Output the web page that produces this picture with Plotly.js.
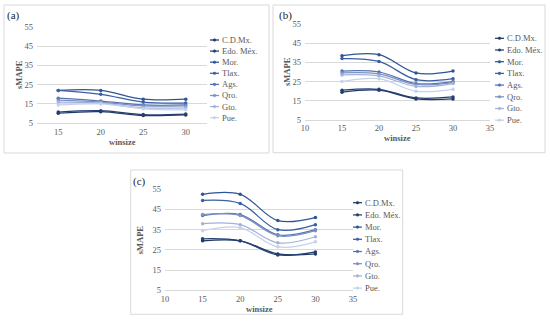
<!DOCTYPE html>
<html>
<head>
<meta charset="utf-8">
<script src="https://cdn.plot.ly/plotly-3.0.1.min.js"></script>
<style>html,body{margin:0;padding:0;background:#fff;}#chart{width:550px;height:322px;}</style>
</head>
<body>
<div id="chart"></div>
<script>
// ---- Data ----
const winsize = [15, 20, 25, 30];
const states = ["C.D.Mx.", "Edo. Méx.", "Mor.", "Tlax.", "Ags.", "Qro.", "Gto.", "Pue."];

// Panel (a)
const a_CDMx = [10.2, 11, 9, 9.3];
const a_EdoMex = [10.8, 11.5, 9.5, 9.8];
const a_Mor = [22, 22, 17.5, 17.5];
const a_Tlax = [22, 20, 16, 15.5];
const a_Ags = [18, 16.5, 14.5, 14.5];
const a_Qro = [17, 16, 14, 14];
const a_Gto = [16, 15.5, 13, 13];
const a_Pue = [14.5, 15, 12.5, 12];

// Panel (b)
const b_CDMx = [19.5, 20.5, 16, 16];
const b_EdoMex = [20.5, 21, 16.5, 17];
const b_Mor = [38.5, 39, 29.5, 30.5];
const b_Tlax = [37, 35.5, 26, 26.5];
const b_Ags = [30.5, 30, 24, 25];
const b_Qro = [29.5, 29, 23.5, 24.5];
const b_Gto = [28.5, 28, 22.5, 24];
const b_Pue = [25, 26.5, 20, 21];

// Panel (c)
const c_CDMx = [29.5, 29.5, 23, 23];
const c_EdoMex = [30.5, 29.5, 22.5, 24];
const c_Mor = [52.5, 52.5, 39.5, 41];
const c_Tlax = [49.5, 48, 35, 37.5];
const c_Ags = [42, 42.5, 32.5, 35];
const c_Qro = [42.5, 42, 32, 34.5];
const c_Gto = [38, 37.5, 28.5, 31.5];
const c_Pue = [34.5, 36, 26.5, 29];

const yTicks = [5, 15, 25, 35, 45, 55];
const xTicksA = [15, 20, 25, 30];
const xTicksBC = [10, 15, 20, 25, 30, 35];

const colors = ["#1f3864", "#243f73", "#2e5597", "#3a5fa2", "#5673b0", "#7b91c3", "#a2b3d9", "#c6d1ea"];

// ---- Layout helpers ----
const W = 550, H = 322;
const px = x => x / W;
const py = y => 1 - y / H;
const FONT = "'Liberation Serif', 'Times New Roman', 'DejaVu Serif', serif";
const GRAY = "#595959";

const panels = [
  {name: "a", series: [a_CDMx, a_EdoMex, a_Mor, a_Tlax, a_Ags, a_Qro, a_Gto, a_Pue],
   xd: [37, 207], yd: [26.7, 123.3], xr: [12.5, 32.5], xt: xTicksA,
   box: [4, 5, 269, 153], label: [13, 15],
   legX: 210, legY0: 40, legDy: 11.1, ytitleX: 19, xtitleY: 142},
  {name: "b", series: [b_CDMx, b_EdoMex, b_Mor, b_Tlax, b_Ags, b_Qro, b_Gto, b_Pue],
   xd: [305, 490], yd: [24, 120], xr: [10, 35], xt: xTicksBC,
   box: [273, 5, 545, 152.7], label: [285, 15],
   legX: 495, legY0: 38.3, legDy: 11.7, ytitleX: 287, xtitleY: 138},
  {name: "c", series: [c_CDMx, c_EdoMex, c_Mor, c_Tlax, c_Ags, c_Qro, c_Gto, c_Pue],
   xd: [165, 353], yd: [189.3, 290.3], xr: [10, 35], xt: xTicksBC,
   box: [130.7, 170, 402.7, 314.3], label: [140, 181],
   legX: 353, legY0: 202.7, legDy: 12.2, ytitleX: 139.5, xtitleY: 309}
];

const traces = [];
const layout = {
  width: W, height: H,
  margin: {l: 0, r: 0, t: 0, b: 0},
  paper_bgcolor: "#ffffff", plot_bgcolor: "rgba(0,0,0,0)",
  showlegend: false,
  font: {family: FONT, size: 8, color: GRAY},
  shapes: [], annotations: []
};

panels.forEach((p, i) => {
  const suf = i === 0 ? "" : String(i + 1);
  const xa = "xaxis" + suf, ya = "yaxis" + suf;
  layout[xa] = {
    domain: [px(p.xd[0]), px(p.xd[1])], anchor: "y" + suf,
    range: p.xr, tickvals: p.xt, ticktext: p.xt.map(String), tickmode: "array",
    showgrid: false, zeroline: false, showline: true, linecolor: "#d9d9d9", linewidth: 1,
    ticks: "", tickfont: {family: FONT, size: 8.5, color: GRAY}, fixedrange: true
  };
  layout[ya] = {
    domain: [py(p.yd[1]), py(p.yd[0])], anchor: "x" + suf,
    range: [5, 55], tickvals: yTicks, tickmode: "array",
    showgrid: true, gridcolor: "#d9d9d9", gridwidth: 1, zeroline: false, showline: false,
    ticks: "", ticklabelstandoff: 3, tickfont: {family: FONT, size: 8.5, color: GRAY}, fixedrange: true
  };
  p.series.forEach((s, k) => {
    traces.push({
      type: "scatter", mode: "lines+markers", name: states[k],
      x: winsize, y: s, xaxis: "x" + suf, yaxis: "y" + suf,
      line: {color: colors[k], width: 1.25, shape: "spline", smoothing: 1},
      marker: {color: colors[k], size: 3.5, symbol: "circle"},
      hoverinfo: "x+y+name"
    });
    // manual legend entry
    const ly = p.legY0 + k * p.legDy;
    layout.shapes.push({type: "line", xref: "paper", yref: "paper",
      x0: px(p.legX), x1: px(p.legX + 9), y0: py(ly), y1: py(ly),
      line: {color: colors[k], width: 1.25}});
    layout.shapes.push({type: "circle", xref: "paper", yref: "paper",
      x0: px(p.legX + 3.2), x1: px(p.legX + 5.8), y0: py(ly - 1.3), y1: py(ly + 1.3),
      fillcolor: colors[k], line: {color: colors[k], width: 0.5}});
    layout.annotations.push({xref: "paper", yref: "paper", x: px(p.legX + 10), y: py(ly),
      xanchor: "left", yanchor: "middle", showarrow: false, text: states[k],
      font: {family: FONT, size: 8.5, color: GRAY}});
  });
  // panel border
  layout.shapes.push({type: "rect", xref: "paper", yref: "paper", layer: "below",
    x0: px(p.box[0]), x1: px(p.box[2]), y0: py(p.box[3]), y1: py(p.box[1]),
    line: {color: "#d9d9d9", width: 1}, fillcolor: "rgba(0,0,0,0)"});
  // panel label
  layout.annotations.push({xref: "paper", yref: "paper", x: px(p.label[0]), y: py(p.label[1]),
    xanchor: "center", yanchor: "middle", showarrow: false, text: "(" + p.name + ")",
    font: {family: FONT, size: 11, color: "#222222"}});
  // axis titles
  layout.annotations.push({xref: "paper", yref: "paper", x: px(p.ytitleX), y: py((p.yd[0] + p.yd[1]) / 2),
    xanchor: "center", yanchor: "middle", showarrow: false, text: "<b>sMAPE</b>", textangle: -90,
    font: {family: FONT, size: 8.5, color: GRAY}});
  layout.annotations.push({xref: "paper", yref: "paper", x: px((p.xd[0] + p.xd[1]) / 2), y: py(p.xtitleY),
    xanchor: "center", yanchor: "middle", showarrow: false, text: "<b>winsize</b>",
    font: {family: FONT, size: 8.5, color: GRAY}});
});

Plotly.newPlot("chart", traces, layout, {staticPlot: true, displayModeBar: false});
</script>
</body>
</html>
